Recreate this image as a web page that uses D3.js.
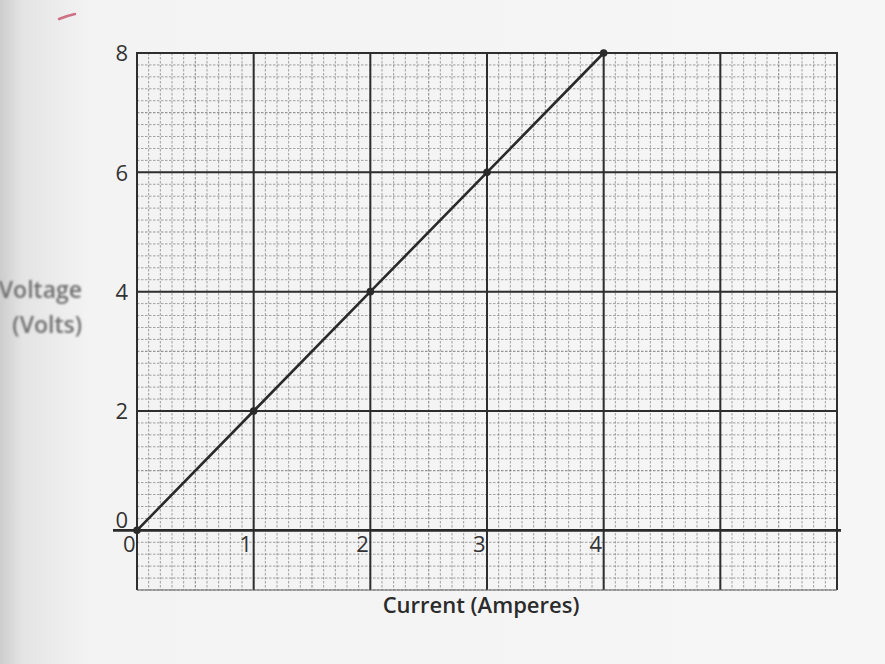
<!DOCTYPE html>
<html>
<head>
<meta charset="utf-8">
<script src="https://cdn.jsdelivr.net/npm/d3@7"></script>
<style>
  html, body { margin: 0; padding: 0; background: #f4f4f4; }
  svg { display: block; }
</style>
</head>
<body>
<svg id="chart" width="885" height="664"></svg>
<script>
// Voltage measured against current through a resistor
const currentAmps = [0, 1, 2, 3, 4];
const voltageVolts = [0, 2, 4, 6, 8];
const xTickValues = [0, 1, 2, 3, 4];
const yTickValues = [0, 2, 4, 6, 8];
const xTitle = "Current (Amperes)";
const yTitleLines = ["Voltage", "(Volts)"];

const svg = d3.select("#chart");
const W = 885, H = 664;

// paper background with a darker scanned edge on the left
const defs = svg.append("defs");
const grad = defs.append("linearGradient").attr("id", "paper").attr("x1", 0).attr("x2", 1).attr("y1", 0).attr("y2", 0);
grad.append("stop").attr("offset", "0").attr("stop-color", "#cdcdcd");
grad.append("stop").attr("offset", "0.025").attr("stop-color", "#e4e4e4");
grad.append("stop").attr("offset", "0.1").attr("stop-color", "#f3f3f3");
grad.append("stop").attr("offset", "1").attr("stop-color", "#f6f6f6");
svg.append("rect").attr("width", W).attr("height", H).attr("fill", "url(#paper)");

const blur = defs.append("filter").attr("id", "soft");
blur.append("feGaussianBlur").attr("stdDeviation", 1.2);

const x = d3.scaleLinear().domain([0, 6]).range([137, 837]);
const y = d3.scaleLinear().domain([-1, 8]).range([590, 53]);

const grid = svg.append("g");

// fine graph-paper lines
const minorX = d3.range(0, 60.5, 1).map(i => i / 10);
const minorY = d3.range(-5, 40.5, 1).map(i => i / 5);
grid.selectAll("line.mx").data(minorX).join("line")
  .attr("x1", d => x(d)).attr("x2", d => x(d))
  .attr("y1", y(8)).attr("y2", y(-1))
  .attr("stroke", "#6f6f6f").attr("stroke-width", d => (Math.round(d * 10) % 5 === 0 ? 1.2 : 0.9))
  .attr("stroke-dasharray", "2.5,1.5").attr("opacity", 0.7);
grid.selectAll("line.my").data(minorY).join("line")
  .attr("x1", x(0)).attr("x2", x(6))
  .attr("y1", d => y(d)).attr("y2", d => y(d))
  .attr("stroke", "#6f6f6f").attr("stroke-width", d => (Math.round(d * 5) % 5 === 0 ? 1.2 : 0.9))
  .attr("stroke-dasharray", "2.5,1.5").attr("opacity", 0.7);

// bold lines every whole ampere and every two volts
const majorX = [0, 1, 2, 3, 4, 5, 6];
const majorY = [2, 4, 6, 8];
grid.selectAll("line.Mx").data(majorX).join("line")
  .attr("x1", d => x(d)).attr("x2", d => x(d))
  .attr("y1", y(8) - 1).attr("y2", y(-1))
  .attr("stroke", "#2e2e2e").attr("stroke-width", 2);
grid.selectAll("line.My").data(majorY).join("line")
  .attr("x1", x(0)).attr("x2", x(6))
  .attr("y1", d => y(d)).attr("y2", d => y(d))
  .attr("stroke", "#2e2e2e").attr("stroke-width", 2);
// bottom edge of the grid
grid.append("line").attr("x1", x(0)).attr("x2", x(6)).attr("y1", y(-1)).attr("y2", y(-1))
  .attr("stroke", "#666").attr("stroke-width", 1);

// horizontal axis through zero volts
svg.append("line")
  .attr("x1", 113).attr("x2", x(6) + 4)
  .attr("y1", y(0)).attr("y2", y(0))
  .attr("stroke", "#2a2a2a").attr("stroke-width", 2.6);

// tick labels
const labelFont = "'Open Sans', Lato, sans-serif";
const yAxis = d3.axisLeft(y).tickValues(yTickValues).tickSize(0).tickPadding(9).tickFormat(d3.format("d"));
const gy = svg.append("g").attr("transform", `translate(${x(0)},0)`).call(yAxis);
gy.select(".domain").remove();
gy.selectAll("text")
  .attr("font-family", labelFont).attr("font-size", 22).attr("fill", "#333")
  .attr("dy", d => (d === 0 ? "-0.15em" : "0.36em"));

const xAxis = d3.axisBottom(x).tickValues(xTickValues).tickSize(0).tickPadding(0).tickFormat(d3.format("d"));
const gx = svg.append("g").attr("transform", `translate(0,${y(0)})`).call(xAxis);
gx.select(".domain").remove();
gx.selectAll("text")
  .attr("font-family", labelFont).attr("font-size", 22).attr("fill", "#333")
  .attr("text-anchor", "end").attr("x", -2).attr("y", 6).attr("dy", "0.71em");

// axis titles
svg.append("text")
  .attr("x", 481).attr("y", 613)
  .attr("text-anchor", "middle")
  .attr("font-family", labelFont).attr("font-size", 22).attr("font-weight", 600)
  .attr("fill", "#2b2b2b").text(xTitle);

svg.append("g").attr("filter", "url(#soft)")
  .selectAll("text").data(yTitleLines).join("text")
  .attr("x", 82).attr("y", (d, i) => 298 + i * 35)
  .attr("text-anchor", "end")
  .attr("font-family", labelFont).attr("font-size", 23).attr("font-weight", 600)
  .attr("fill", "#6e6e6e").text(d => d);

// measured data and its line
const pts = currentAmps.map((c, i) => [c, voltageVolts[i]]);
svg.append("path")
  .datum(pts)
  .attr("fill", "none").attr("stroke", "#2a2a2a").attr("stroke-width", 2.6)
  .attr("d", d3.line().x(d => x(d[0])).y(d => y(d[1])));
svg.selectAll("circle.pt").data(pts).join("circle")
  .attr("cx", d => x(d[0])).attr("cy", d => y(d[1])).attr("r", 3.8)
  .attr("fill", "#2a2a2a");

// pen tick near the top corner
svg.append("path")
  .attr("d", "M59,19 Q66,16 75,14")
  .attr("stroke", "#c8506a").attr("stroke-width", 2.5).attr("fill", "none")
  .attr("stroke-linecap", "round").attr("opacity", 0.8);
</script>
</body>
</html>
